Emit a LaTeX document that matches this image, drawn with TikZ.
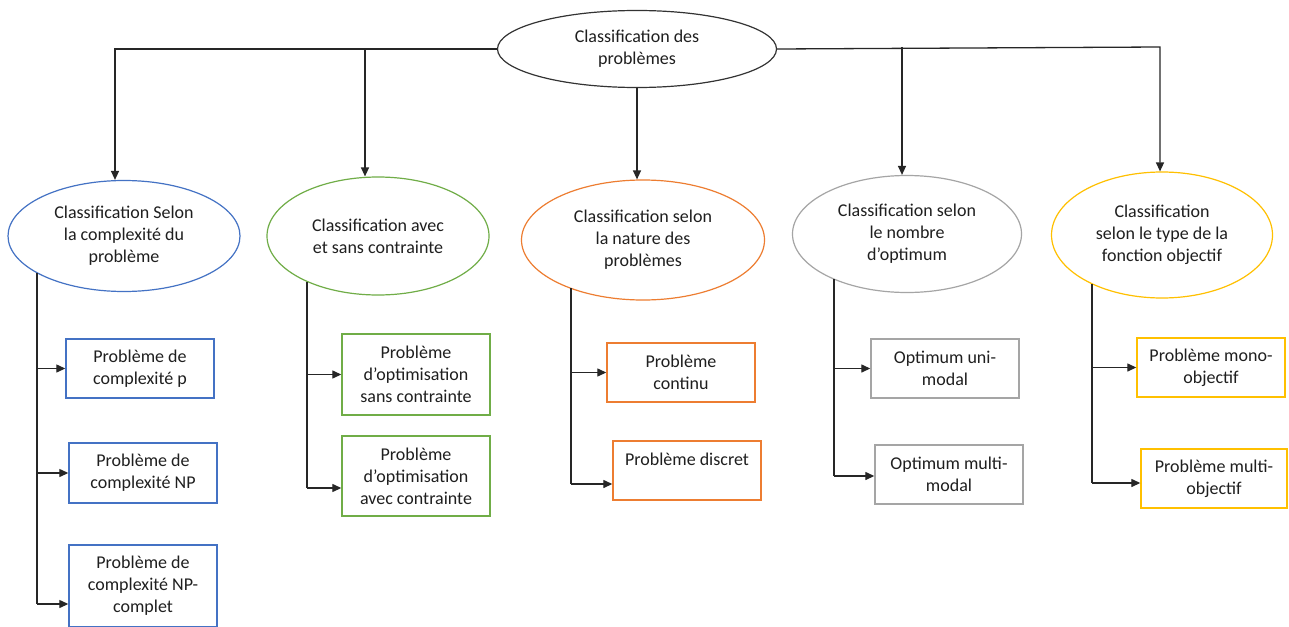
\documentclass[tikz,border=0pt]{standalone}
\usepackage{fontspec}
\setmainfont{Carlito}
\usetikzlibrary{shapes.geometric,arrows.meta}
\definecolor{cblue}{HTML}{4472C4}
\definecolor{cgreen}{HTML}{70AD47}
\definecolor{corange}{HTML}{ED7D31}
\definecolor{cgrey}{HTML}{A5A5A5}
\definecolor{cyellow}{HTML}{FFC000}
\begin{document}
\begin{tikzpicture}[x=1pt,y=-1pt,
  every node/.style={font=\fontsize{18}{22}\selectfont, text=black!88, align=center, inner sep=0pt},
  ell/.style={ellipse, draw, line width=1.2pt},
  box/.style={rectangle, draw, line width=1.4pt, minimum width=148pt, minimum height=59pt},
  conn/.style={line width=1.3pt, draw=black!85},
  arr/.style={conn, -{Triangle[length=9pt,width=8pt]}}]
\clip (0,0) rectangle (1289,626);
\fill[white] (0,0) rectangle (1289,626);
% ellipses
\node[ell, draw=black!80, minimum width=279pt, minimum height=77pt] (top) at (637,49) {Classification des\\problèmes};
\node[ell, draw=cblue, minimum width=232pt, minimum height=111pt] (c1) at (124,236) {Classification Selon\\la complexité du\\problème};
\node[ell, draw=cgreen, minimum width=222pt, minimum height=118pt] (c2) at (378,236) {Classification avec\\et sans contrainte};
\node[ell, draw=corange, minimum width=243pt, minimum height=120pt] (c3) at (643,240) {Classification selon\\la nature des\\problèmes};
\node[ell, draw=cgrey, minimum width=229pt, minimum height=117pt] (c4) at (907,234) {Classification selon\\le nombre\\d’optimum};
\node[ell, draw=cyellow, minimum width=221pt, minimum height=126pt] (c5) at (1162,235) {Classification\\selon le type de la\\fonction objectif};
% boxes
\node[box, draw=cblue] (b11) at (140,368.5) {Problème de\\complexité p};
\node[box, draw=cblue, minimum height=60pt] (b12) at (143,473) {Problème de\\complexité NP};
\node[box, draw=cblue, minimum height=82pt] (b13) at (143,586) {Problème de\\complexité NP-\\complet};
\node[box, draw=cgreen, minimum height=81pt] (b21) at (416,374.5) {Problème\\d’optimisation\\sans contrainte};
\node[box, draw=cgreen, minimum height=80pt] (b22) at (416,476) {Problème\\d’optimisation\\avec contrainte};
\node[box, draw=corange] (b31) at (681,372.5) {Problème\\continu};
\node[box, draw=corange] (b32) at (687,470.5) {Problème discret\\\phantom{x}};
\node[box, draw=cgrey] (b41) at (945,368.5) {Optimum uni-\\modal};
\node[box, draw=cgrey] (b42) at (949,474.5) {Optimum multi-\\modal};
\node[box, draw=cyellow] (b51) at (1211,367.5) {Problème mono-\\objectif};
\node[box, draw=cyellow, minimum width=146pt] (b52) at (1214,478.5) {Problème multi-\\objectif};
% top connectors
\coordinate (j1) at (115,49);
\coordinate (j2) at (365,49);
\coordinate (j4) at (902,47);
\coordinate (j5) at (1160,47);
\draw[arr] (top.west) -- (j1) -- (j1 |- c1.north);
\draw[arr] (j2) -- (j2 |- c2.north);
\draw[arr] (top.south) -- (top.south |- c3.north);
\draw[arr] (top.east) -- (j5) -- (j5 |- c5.north);
\draw[arr] (j4) -- (j4 |- c4.north);
% vertical connectors
\coordinate (v1t) at (37,273); \coordinate (v1b) at (37,604);
\coordinate (v2t) at (307,282); \coordinate (v2b) at (307,488);
\coordinate (v3t) at (571,288); \coordinate (v3b) at (571,484);
\coordinate (v4t) at (834,279); \coordinate (v4b) at (834,476);
\coordinate (v5t) at (1092,284); \coordinate (v5b) at (1092,483);
\draw[conn] (v1t) -- (v1b);
\draw[arr] (v1t |- b11.west) -- (b11.west);
\draw[arr] (v1t |- b12.west) -- (b12.west);
\draw[arr] (v1b) -- (v1b -| b13.west);
\draw[conn] (v2t) -- (v2b);
\draw[arr] (v2t |- b21.west) -- (b21.west);
\draw[arr] (v2b) -- (v2b -| b22.west);
\draw[conn] (v3t) -- (v3b);
\draw[arr] (v3t |- b31.west) -- (b31.west);
\draw[arr] (v3b) -- (v3b -| b32.west);
\draw[conn] (v4t) -- (v4b);
\draw[arr] (v4t |- b41.west) -- (b41.west);
\draw[arr] (v4b) -- (v4b -| b42.west);
\draw[conn] (v5t) -- (v5b);
\draw[arr] (v5t |- b51.west) -- (b51.west);
\draw[arr] (v5b) -- (v5b -| b52.west);
\end{tikzpicture}
\end{document}
